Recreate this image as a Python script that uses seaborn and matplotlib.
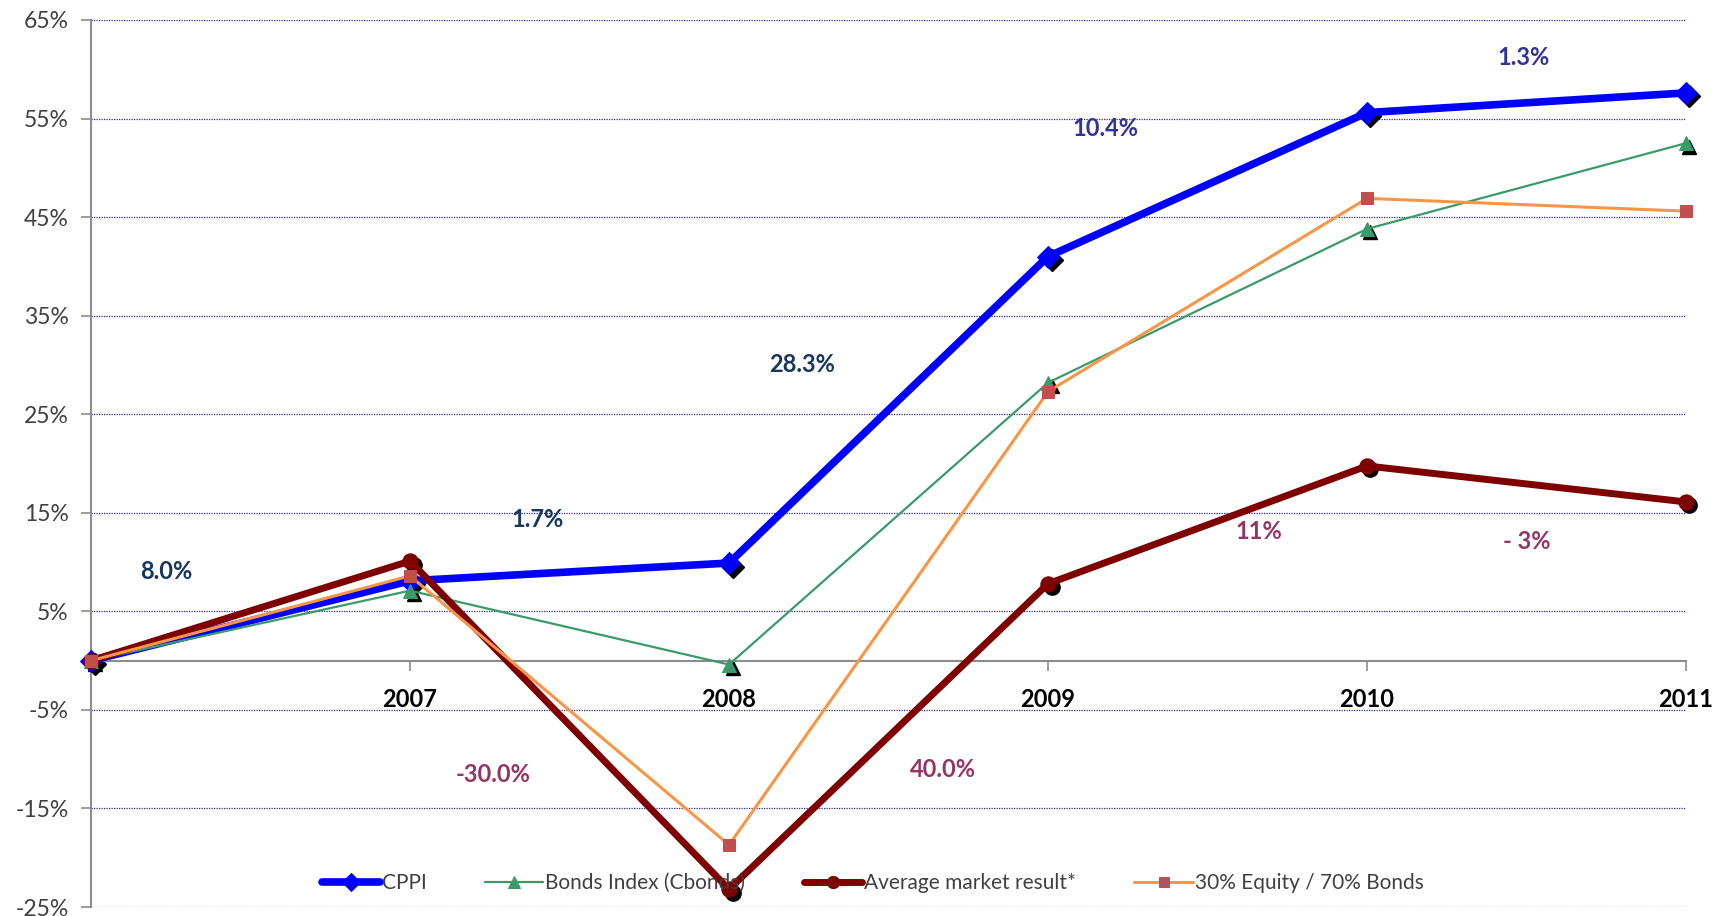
import matplotlib
matplotlib.use('Agg')
import matplotlib.pyplot as plt
import matplotlib.transforms as mtransforms
import seaborn as sns
import pandas as pd

# 数据
years = [2006, 2007, 2008, 2009, 2010, 2011]
year_labels = ['', '2007', '2008', '2009', '2010', '2011']
cppi = [0.0, 8.1, 9.9, 41.0, 55.6, 57.6]
bonds = [0.0, 7.1, -0.4, 28.2, 43.8, 52.5]
avg_market = [0.0, 10.1, -23.2, 7.8, 19.75, 16.1]
mix_30_70 = [0.0, 8.6, -18.7, 27.3, 46.9, 45.6]
y_ticks = [-25, -15, -5, 5, 15, 25, 35, 45, 55, 65]

# 年度收益标注
cppi_notes = ['8.0%', '1.7%', '28.3%', '10.4%', '1.3%']
cppi_note_x = [2006.235, 2007.40, 2008.23, 2009.18, 2010.49]
cppi_note_y = [9.0, 14.3, 30.0, 54.0, 61.2]
market_notes = ['-30.0%', '40.0%', '11%', '- 3%']
market_note_x = [2007.26, 2008.67, 2009.66, 2010.50]
market_note_y = [-11.6, -11.0, 13.1, 12.1]

df = pd.DataFrame({'year': years, 'CPPI': cppi, 'Bonds': bonds,
                   'Avg': avg_market, 'Mix': mix_30_70})

sns.set_style('white')
plt.rcParams['font.family'] = ['Lato', 'DejaVu Sans']

fig = plt.figure(figsize=(17.28, 9.16), dpi=100)
ax = fig.add_axes([0.0527, 0.0098, 0.9230, 0.9684])

# 坐标轴（先设 spine 位置，否则会重置刻度标签）
for s in ['top', 'right']:
    ax.spines[s].set_visible(False)
ax.spines['bottom'].set_position(('data', 0))
ax.spines['bottom'].set_color('#8C8C8C')
ax.spines['bottom'].set_linewidth(1.5)
ax.spines['left'].set_color('#8C8C8C')
ax.spines['left'].set_linewidth(1.5)

# 标记阴影
shadow = ax.transData + mtransforms.ScaledTranslation(2.5 / 72, -2.5 / 72, fig.dpi_scale_trans)
ax.plot(df['year'], df['CPPI'], ls='none', marker='D', ms=11, color='black', transform=shadow, zorder=2, clip_on=False)
ax.plot(df['year'], df['Bonds'], ls='none', marker='^', ms=10, color='black', transform=shadow, zorder=2, clip_on=False)
ax.plot(df['year'], df['Avg'], ls='none', marker='o', ms=11, color='black', transform=shadow, zorder=2, clip_on=False)

sns.lineplot(data=df, x='year', y='CPPI', ax=ax, color='#0000FF', linewidth=5.5,
             marker='D', markersize=11, markeredgecolor='#0000FF', label='CPPI', zorder=3, clip_on=False)
sns.lineplot(data=df, x='year', y='Bonds', ax=ax, color='#3A9A6A', linewidth=1.6,
             marker='^', markersize=10, markeredgecolor='#3A9A6A', label='Bonds Index (Cbonds)', zorder=3, clip_on=False)
sns.lineplot(data=df, x='year', y='Avg', ax=ax, color='#7F0000', linewidth=5,
             marker='o', markersize=11, markeredgecolor='#7F0000', label='Average market result*', zorder=3, clip_on=False)
sns.lineplot(data=df, x='year', y='Mix', ax=ax, color='#F79646', linewidth=2.2,
             marker='s', markersize=9, markerfacecolor='#C0504D', markeredgecolor='#C0504D',
             label='30% Equity / 70% Bonds', zorder=3, clip_on=False)

for t, x, y in zip(cppi_notes, cppi_note_x, cppi_note_y):
    c = '#17375E' if x < 2009 else '#333399'
    ax.text(x, y, t, color=c, fontsize=17, fontweight='bold', ha='center', va='center')
for t, x, y in zip(market_notes, market_note_x, market_note_y):
    ax.text(x, y, t, color='#953564', fontsize=17, fontweight='bold', ha='center', va='center')

ax.set_xlim(2006, 2011)
ax.set_ylim(-25, 65)
ax.set_yticks(y_ticks)
ax.set_yticklabels([f'{v}%' for v in y_ticks])
ax.set_xticks(years)
ax.set_xticklabels(year_labels, fontsize=17, fontweight='bold', color='black')
ax.set_xlabel('')
ax.set_ylabel('')

ax.yaxis.grid(True, color='#2B2B8C', linestyle=(0, (1, 1)), linewidth=0.9)
ax.xaxis.grid(False)
ax.set_axisbelow(True)

ax.tick_params(axis='y', direction='out', length=7, width=1.2, color='#8C8C8C',
               labelsize=16.5, labelcolor='#404040', pad=9, left=True)
ax.tick_params(axis='x', direction='out', length=7, width=1.2, color='#8C8C8C',
               pad=13, bottom=True)

leg = ax.legend(loc='center', bbox_to_anchor=(0.49, 0.027), ncol=4, frameon=False,
                fontsize=15, handlelength=2.8, handletextpad=0.1, columnspacing=2.8,
                markerscale=0.8)
for txt in leg.get_texts():
    txt.set_color('#404040')

fig.savefig('out.png', dpi=100)
